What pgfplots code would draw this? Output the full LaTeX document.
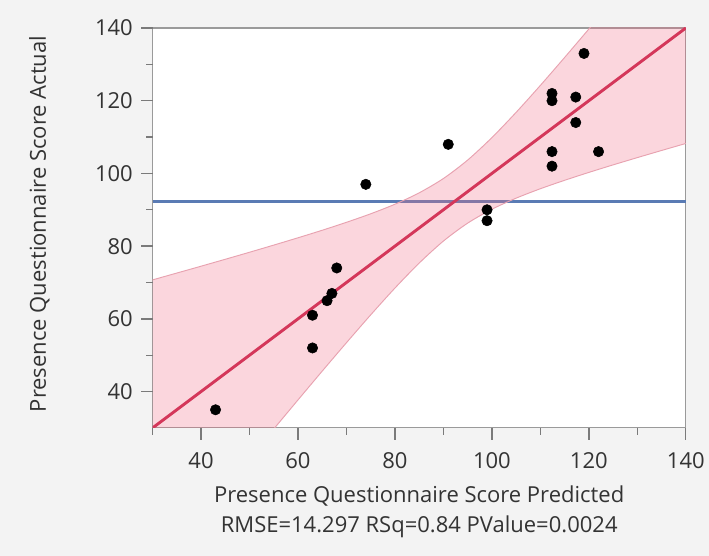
\documentclass[border=0pt]{standalone}
\usepackage{fontspec}
\setmainfont{Open Sans}
\usepackage{pgfplots}
\pgfplotsset{compat=1.18}
\usetikzlibrary{calc}
\definecolor{bg}{HTML}{F3F3F3}
\definecolor{axgray}{HTML}{9A9A9A}
\definecolor{tickc}{HTML}{7A7A7A}
\definecolor{txt}{HTML}{333333}
\definecolor{bluel}{HTML}{5A7BB4}
\definecolor{redl}{HTML}{D4375A}
\definecolor{bandc}{HTML}{F26D85}
\definecolor{edgec}{HTML}{E8A2B0}
\newcommand{\lf}{\fontsize{16.5}{20}\selectfont}
\begin{document}
\begin{tikzpicture}
\fill[bg, use as bounding box] (-114.4pt,-96pt) rectangle (417.4pt,321pt);
\begin{axis}[
  name=ax,
  at={(0,0)}, anchor=south west,
  scale only axis, width=400pt, height=300pt,
  xmin=30, xmax=140, ymin=30, ymax=140,
  xtick={40,60,...,140}, ytick={40,60,...,140},
  minor tick num=0,
  tick align=outside,
  xtick pos=bottom, ytick pos=left,
  major tick length=9pt,
  axis line style={draw=axgray, line width=0.8pt},
  every tick/.style={draw=none},
  axis background/.style={fill=white},
  /pgf/number format/assume math mode=true,
  tick label style={font=\lf, text=txt},
  xticklabel style={inner sep=0pt, yshift=-9pt},
  yticklabel style={inner sep=0pt, xshift=-5.6pt},
  xlabel={Presence Questionnaire Score Predicted},
  xlabel style={font=\lf, text=txt, at={(axis description cs:0.5,-0.1875)}, anchor=base, inner sep=0pt},
  ylabel={Presence Questionnaire Score Actual},
  ylabel style={font=\lf, text=txt, at={(axis description cs:-0.212,0.51)}, anchor=center, inner sep=0pt},
]
% mean line
\addplot[draw=bluel, line width=2.3pt] coordinates {(30,92.2) (140,92.2)};
% confidence band
\addplot[fill=bandc, fill opacity=0.28, draw=none] coordinates {
(30,70.72) (35,72.60) (40,74.48) (45,76.39) (50,78.32) (55,80.29) (60,82.30) (65,84.37) (70,86.56) (75,88.90) (80,91.53) (85,94.66) (90,98.60) (95,103.67) (100,109.85) (105,116.80) (110,124.21) (115,131.89) (120,139.72) (125,147.65) (130,155.65) (135,163.69) (140,171.76)
(140,108.24) (135,106.31) (130,104.35) (125,102.35) (120,100.28) (115,98.11) (110,95.79) (105,93.20) (100,90.15) (95,86.33) (90,81.40) (85,75.34) (80,68.47) (75,61.10) (70,53.44) (65,45.63) (60,37.70) (55,29.71) (50,21.68) (45,13.61) (40,5.52) (35,-2.60) (30,-10.72)
} -- cycle;
\addplot[draw=edgec, line width=0.7pt, smooth] coordinates {
(30,70.72) (35,72.60) (40,74.48) (45,76.39) (50,78.32) (55,80.29) (60,82.30) (65,84.37) (70,86.56) (75,88.90) (80,91.53) (85,94.66) (90,98.60) (95,103.67) (100,109.85) (105,116.80) (110,124.21) (115,131.89) (120,139.72) (125,147.65) (130,155.65) (135,163.69) (140,171.76)};
\addplot[draw=edgec, line width=0.7pt, smooth] coordinates {
(30,-10.72) (35,-2.60) (40,5.52) (45,13.61) (50,21.68) (55,29.71) (60,37.70) (65,45.63) (70,53.44) (75,61.10) (80,68.47) (85,75.34) (90,81.40) (95,86.33) (100,90.15) (105,93.20) (110,95.79) (115,98.11) (120,100.28) (125,102.35) (130,104.35) (135,106.31) (140,108.24)};
% fit line
\addplot[draw=redl, line width=2.2pt] coordinates {(30,30) (140,140)};
% observations
\addplot[only marks, mark=*, mark size=3.9pt, black] coordinates {
(43,35) (63,52) (63,61) (66,65) (67,67) (68,74) (74,97) (91,108) (99,90) (99,87)
(112.4,122) (112.4,120) (112.4,106) (112.4,102) (117.3,121) (117.3,114) (119,133) (122,106)};
\end{axis}
% tick marks
\foreach \v in {40,60,...,140}
  \draw[tickc, line width=1pt] ($(ax.south west)!{(\v-30)/110}!(ax.south east)$) -- ++(0,-9pt);
\foreach \v in {30,50,...,130}
  \draw[tickc, line width=1pt] ($(ax.south west)!{(\v-30)/110}!(ax.south east)$) -- ++(0,-5pt);
\foreach \v in {40,60,...,140}
  \draw[tickc, line width=1pt] ($(ax.south west)!{(\v-30)/110}!(ax.north west)$) -- ++(-9pt,0);
\foreach \v in {50,70,...,130}
  \draw[tickc, line width=1pt] ($(ax.south west)!{(\v-30)/110}!(ax.north west)$) -- ++(-5pt,0);
\node[font=\lf, text=txt, anchor=base, inner sep=0pt] at (200pt,-78.75pt) {RMSE=14.297 RSq=0.84 PValue=0.0024};
\end{tikzpicture}
\end{document}
